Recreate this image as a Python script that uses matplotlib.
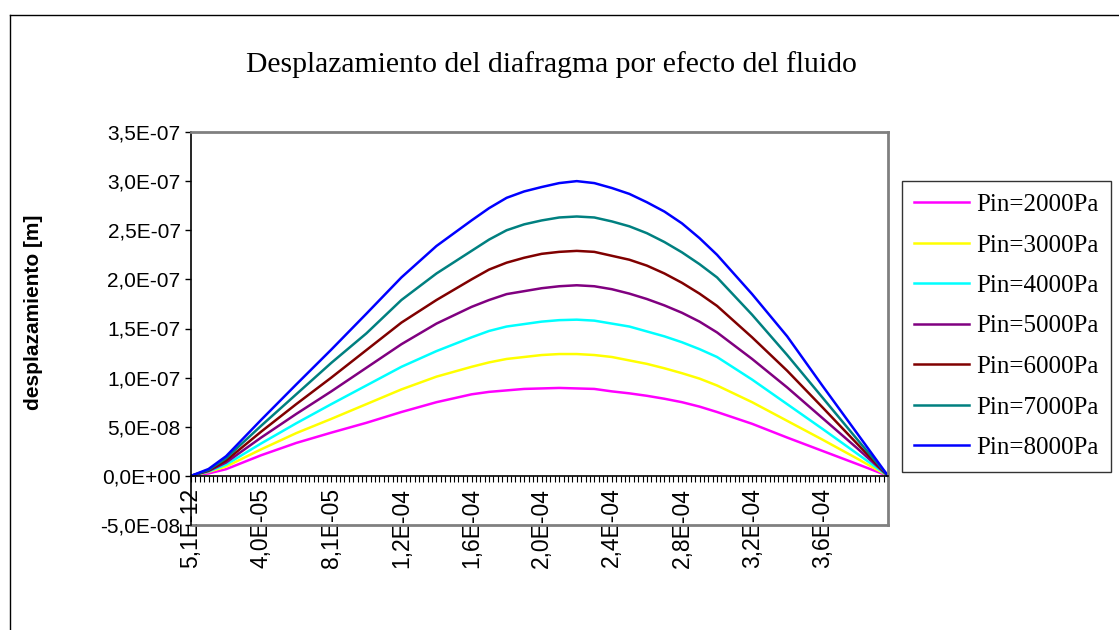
import numpy as np
import matplotlib
matplotlib.use('Agg')
import matplotlib.pyplot as plt
from matplotlib.lines import Line2D

# category positions where the curves were read (160 categories, 0..159)
n_cat = 160
idx = [0, 4, 8, 16, 24, 32, 40, 48, 56, 64, 68, 72, 76, 80, 84, 88, 92, 96, 100, 104,
       108, 112, 116, 120, 128, 136, 144, 152, 159]

# displacement, in units of 1e-8 m
p2000 = [0, 0.25, 0.68, 2.1, 3.35, 4.4, 5.4, 6.5, 7.5, 8.3, 8.55, 8.7, 8.85, 8.9, 8.95, 8.9, 8.85, 8.6, 8.4, 8.15,
         7.85, 7.5, 7.05, 6.5, 5.3, 3.9, 2.55, 1.2, 0]
p3000 = [0, 0.4, 0.95, 2.7, 4.35, 5.8, 7.3, 8.8, 10.1, 11.1, 11.55, 11.9, 12.1, 12.3, 12.4, 12.4, 12.3, 12.1, 11.75, 11.4,
         10.95, 10.45, 9.9, 9.2, 7.5, 5.6, 3.7, 1.75, 0]
p4000 = [0, 0.45, 1.15, 3.3, 5.35, 7.3, 9.2, 11.1, 12.7, 14.1, 14.75, 15.2, 15.45, 15.7, 15.85, 15.9, 15.8, 15.5, 15.2, 14.7,
         14.2, 13.6, 12.9, 12.1, 9.8, 7.3, 4.8, 2.25, 0]
p5000 = [0, 0.5, 1.36, 3.9, 6.3, 8.6, 11.0, 13.4, 15.5, 17.2, 17.9, 18.5, 18.8, 19.1, 19.3, 19.4, 19.3, 19.0, 18.55, 18.0,
         17.35, 16.6, 15.7, 14.6, 11.9, 9.0, 5.9, 2.8, 0]
p6000 = [0, 0.55, 1.56, 4.5, 7.3, 10.0, 12.8, 15.6, 17.9, 20.0, 21.0, 21.7, 22.2, 22.6, 22.8, 22.9, 22.8, 22.4, 22.0, 21.4,
         20.6, 19.65, 18.55, 17.3, 14.1, 10.7, 7.0, 3.25, 0]
p7000 = [0, 0.6, 1.8, 5.1, 8.3, 11.5, 14.5, 17.9, 20.6, 22.9, 24.05, 25.0, 25.6, 26.0, 26.3, 26.4, 26.3, 25.9, 25.4, 24.7,
         23.8, 22.75, 21.55, 20.2, 16.4, 12.3, 8.0, 3.7, 0]
p8000 = [0, 0.7, 2.0, 5.7, 9.3, 12.85, 16.5, 20.2, 23.4, 26.0, 27.25, 28.3, 28.95, 29.4, 29.8, 30.0, 29.8, 29.3, 28.7, 27.85,
         26.9, 25.7, 24.2, 22.5, 18.5, 14.2, 9.2, 4.3, 0]

series = [p2000, p3000, p4000, p5000, p6000, p7000, p8000]
labels = ['Pin=2000Pa', 'Pin=3000Pa', 'Pin=4000Pa', 'Pin=5000Pa', 'Pin=6000Pa', 'Pin=7000Pa', 'Pin=8000Pa']
colors = ['#FF00FF', '#FFFF00', '#00FFFF', '#800080', '#800000', '#008080', '#0000FF']

x_tick_pos = [0, 16, 32, 48, 64, 80, 96, 112, 128, 144]
x_tick_labels = ['5,1E-12', '4,0E-05', '8,1E-05', '1,2E-04', '1,6E-04', '2,0E-04',
                 '2,4E-04', '2,8E-04', '3,2E-04', '3,6E-04']
y_ticks = [-5e-8, 0, 5e-8, 1e-7, 1.5e-7, 2e-7, 2.5e-7, 3e-7, 3.5e-7]
y_tick_labels = ['-5,0E-08', '0,0E+00', '5,0E-08', '1,0E-07', '1,5E-07', '2,0E-07',
                 '2,5E-07', '3,0E-07', '3,5E-07']

W, H = 1119, 630
fig = plt.figure(figsize=(W / 100, H / 100), dpi=100)
fig.patch.set_facecolor('white')

# chart area border (clipped at right / bottom)
fig.add_artist(Line2D([10 / W, 1], [1 - 15 / H, 1 - 15 / H], color='black', lw=1))
fig.add_artist(Line2D([10 / W, 10 / W], [0, 1 - 15 / H], color='black', lw=1))

ax = fig.add_axes([191 / W, 1 - 525 / H, (888 - 191) / W, (525 - 132) / H])
for s, lab, c in zip(series, labels, colors):
    ax.plot(idx, np.array(s) * 1e-8, color=c, lw=1.8, label=lab)

ax.set_xlim(0, n_cat - 1)
ax.set_ylim(-5e-8, 3.5e-7)

for side in ['top', 'right']:
    ax.spines[side].set_color('#808080')
    ax.spines[side].set_linewidth(2)
ax.spines['left'].set_color('black')
ax.spines['left'].set_linewidth(1.2)
ax.spines['bottom'].set_position(('data', 0))
ax.spines['bottom'].set_color('black')
ax.spines['bottom'].set_linewidth(1.2)
ax.plot([0, 1], [0, 0], transform=ax.transAxes, color='#808080', lw=2, clip_on=False)

ax.set_xticks(x_tick_pos)
ax.set_xticks(np.arange(n_cat), minor=True)
ax.set_xticklabels(x_tick_labels, rotation=90, ha='center', va='top',
                   family='Liberation Sans', fontsize=16.5)
ax.tick_params(axis='x', which='both', direction='out', length=4.5, width=0.8, pad=4)

ax.set_yticks(y_ticks)
ax.set_yticklabels(y_tick_labels, family='Liberation Sans', fontsize=15)
ax.tick_params(axis='y', direction='out', length=4.5, width=1, pad=3)

fig.text(551 / W, 1 - 65 / H, 'Desplazamiento del diafragma por efecto del fluido',
         ha='center', va='center', family='Liberation Serif', fontsize=21.3)
fig.text(34 / W, 1 - 312 / H, 'desplazamiento [m]', rotation=90, ha='center', va='center',
         family='Liberation Sans', fontweight='bold', fontsize=15)

leg = fig.legend(loc='upper left', bbox_to_anchor=(902 / W, 1 - 181 / H),
                 prop={'family': 'Liberation Serif', 'size': 18},
                 frameon=True, fancybox=False, handlelength=2.2, handletextpad=0.25,
                 labelspacing=0.72, borderpad=0.5, borderaxespad=0)
leg.get_frame().set_edgecolor('black')
leg.get_frame().set_linewidth(1)

fig.savefig('out.png', dpi=100)
